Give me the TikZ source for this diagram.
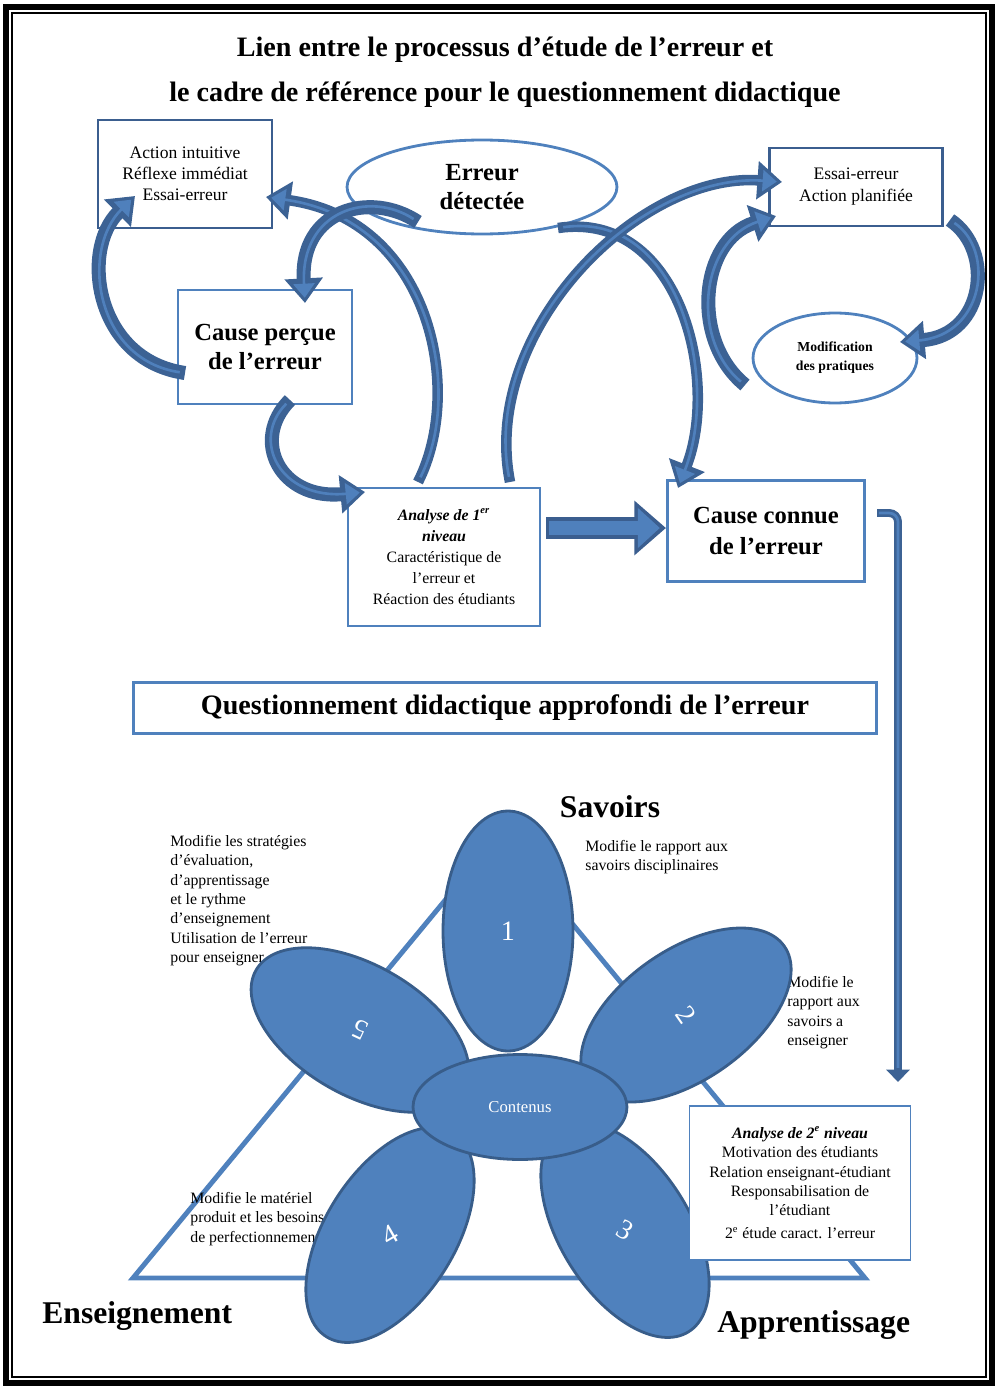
\documentclass[tikz,border=0pt]{standalone}
\usepackage{fontspec}
\setmainfont{Liberation Serif}
\usetikzlibrary{shapes.geometric, arrows.meta, positioning, calc}

\definecolor{boxdark}{HTML}{3B5E8F}
\definecolor{boxlight}{HTML}{4F81BD}
\definecolor{bandblue}{HTML}{3C6294}
\definecolor{bandlight}{HTML}{4F80BC}
\definecolor{petalfill}{HTML}{4F81BD}
\definecolor{petaledge}{HTML}{385D8A}

\begin{document}
\begin{tikzpicture}[x=0.02cm, y=-0.02cm,
    darkbox/.style={draw=boxdark, line width=1.6pt, align=center, inner sep=0pt},
    lightbox/.style={draw=boxlight, line width=1.6pt, align=center, inner sep=0pt},
    oval/.style={ellipse, draw=boxlight, line width=1.6pt, align=center, inner sep=0pt},
    band/.style={draw=bandblue, line width=#1, -{Triangle[length=14pt,width=21pt]},
        postaction={draw=bandlight, line width=1.5pt, shorten <=3pt, shorten >=3pt,
        -{Triangle[length=8pt,width=12pt]}}},
    band/.default=8pt,
    blockarrow/.style={draw=boxdark, line width=12pt, -{Triangle[length=18pt,width=30pt]},
        postaction={draw=bandlight, line width=8pt, shorten <=1.5pt, shorten >=3.5pt,
        -{Triangle[length=12.5pt,width=22pt]}}},
    conn/.style={draw=bandblue, line width=4.5pt, rounded corners=5pt, -{Triangle[length=7pt,width=13pt]},
        postaction={draw=bandlight, line width=1.5pt, shorten <=1pt, shorten >=8pt, -}},
    petal/.style={ellipse, draw=petaledge, line width=1.6pt, fill=petalfill,
        minimum width=4.8cm, minimum height=2.6cm, inner sep=0pt},
    petalnum/.style={text=white, font=\fontsize{16}{16}\selectfont, inner sep=0pt},
    note/.style={font=\fontsize{9}{11}\selectfont, align=left, anchor=north west, inner sep=0pt},
    corner/.style={font=\bfseries\fontsize{18}{20}\selectfont, inner sep=0pt}
]
\useasboundingbox (0,0) rectangle (997,1389);

% cadre
\draw[line width=3pt] (6,7) rectangle (992,1383);
\draw[line width=0.8pt] (12,13) rectangle (986,1377);

% titre
\node[font=\bfseries\fontsize{16}{19}\selectfont] (titre1) at (505,50) {Lien entre le processus d’étude de l’erreur et};
\node[font=\bfseries\fontsize{16}{19}\selectfont] (titre2) at (505,95) {le cadre de référence pour le questionnement didactique};

% processus d'etude de l'erreur
\node[darkbox, minimum width=3.48cm, minimum height=2.16cm, font=\fontsize{10}{12}\selectfont] (intuit) at (185,174)
    {Action intuitive\\Réflexe immédiat\\Essai-erreur};
\node[oval, minimum width=5.4cm, minimum height=1.88cm, font=\bfseries\fontsize{14}{16.5}\selectfont] (detect) at (482,187)
    {Erreur\\détectée};
\node[darkbox, minimum width=3.46cm, minimum height=1.56cm, font=\fontsize{10}{12.5}\selectfont] (planif) at (856,187)
    {Essai-erreur\\Action planifiée};
\node[lightbox, minimum width=3.48cm, minimum height=2.28cm, font=\bfseries\fontsize{14}{17}\selectfont] (percue) at (265,347)
    {Cause perçue\\de l’erreur};
\node[oval, minimum width=3.28cm, minimum height=1.8cm, font=\bfseries\fontsize{7.8}{10.8}\selectfont] (modif) at (835,358)
    {Modification\\des pratiques};
\node[lightbox, minimum width=3.84cm, minimum height=2.76cm, font=\fontsize{9}{12}\selectfont] (analyse1) at (444,557)
    {\textbf{\textit{Analyse de 1\textsuperscript{er}}}\\\textbf{\textit{niveau}}\\Caractéristique de\\l’erreur et\\Réaction des étudiants};
\node[lightbox, minimum width=3.94cm, minimum height=2.02cm, font=\bfseries\fontsize{14}{18}\selectfont] (connue) at (766,531)
    {Cause connue\\de l’erreur};

% fleches courbes
\coordinate (aTail) at (185,373); \coordinate (aHead) at (135,196);
\coordinate (bTail) at (418,222); \coordinate (bHead) at (305,303);
\coordinate (cTail) at (418,482); \coordinate (cHead) at (266,197);
\coordinate (dTail) at (510,482); \coordinate (dHead) at (782,182);
\coordinate (eTail) at (558,228); \coordinate (eHead) at (678,488);
\coordinate (fTail) at (745,385); \coordinate (fHead) at (776,216);
\coordinate (gTail) at (950,220); \coordinate (gHead) at (900,342);
\coordinate (hTail) at (290,400); \coordinate (hHead) at (365,492);

\draw[band] (aTail) .. controls (95,360) and (80,250) .. (aHead);
\draw[band=6pt] (cTail) .. controls (465,390) and (430,220) .. (cHead);
\draw[band] (bTail) .. controls (370,190) and (300,210) .. (bHead);
\draw[band=6pt] (eTail) .. controls (680,210) and (720,380) .. (eHead);
\draw[band=6pt] (dTail) .. controls (480,330) and (640,172) .. (dHead);
\draw[band] (fTail) .. controls (690,340) and (700,240) .. (fHead);
\draw[band] (gTail) .. controls (995,250) and (985,335) .. (gHead);
\draw[band] (hTail) .. controls (250,440) and (280,500) .. (hHead);

% analyse 1 -> cause connue
\coordinate (blocStart) at (546,528);
\coordinate (blocEnd) at (666,528);
\draw[blockarrow] (blocStart) -- (blocEnd);

% vers l'analyse de 2e niveau
\coordinate (connOut) at (877,513);
\coordinate (connIn) at (898,1082);
\draw[conn] (connOut) -| (connIn);

% questionnement
\node[lightbox, minimum width=14.86cm, minimum height=1.02cm, font=\bfseries\fontsize{16}{19}\selectfont] (question) at (505,708)
    {Questionnement didactique approfondi de l’erreur};

% triangle
\coordinate (triG) at (133,1278);
\coordinate (triH) at (499,835);
\coordinate (triD) at (865,1278);
\draw[boxlight, line width=2.8pt, line join=miter] (triG) -- (triH) -- (triD) -- cycle;

% textes
\node[note] (noteA) at (170,835) {Modifie les stratégies\\d’évaluation,\\d’apprentissage\\et le rythme\\d’enseignement\\Utilisation de l’erreur\\pour enseigner};
\node[note] (noteB) at (585,840) {Modifie le rapport aux\\savoirs disciplinaires};
\node[note] (noteC) at (787,976) {Modifie le\\rapport aux\\savoirs a\\enseigner};
\node[note] (noteD) at (190,1192) {Modifie le matériel\\produit et les besoins\\de perfectionnement};

% fleur
\node[petal, rotate=90] (p1) at (508,931) {};
\node[petal, rotate=35] (p2) at (686,1015) {};
\node[petal, rotate=-58] (p3) at (625,1230) {};
\node[petal, rotate=58] (p4) at (390,1235) {};
\node[petal, rotate=-30] (p5) at (360,1030) {};
\node[petal, minimum width=4.28cm, minimum height=2.1cm, text=white, font=\fontsize{9.5}{11}\selectfont] (centre) at (520,1107) {Contenus};

\node[petalnum] (n1) at (p1) {1};
\node[petalnum, rotate=-55] (n2) at (p2) {2};
\node[petalnum, rotate=-30] (n3) at (p3) {3};
\node[petalnum, rotate=30] (n4) at (p4) {4};
\node[petalnum, rotate=155] (n5) at (p5) {5};

% analyse 2e niveau
\node[draw=boxlight, line width=0.8pt, fill=white, align=center, inner sep=0pt,
    minimum width=4.42cm, minimum height=3.08cm, font=\fontsize{9}{11}\selectfont] (analyse2) at (800,1183)
    {\textbf{\textit{Analyse de 2\textsuperscript{e} niveau}}\\Motivation des étudiants\\Relation enseignant-étudiant\\Responsabilisation de\\l’étudiant\\[2pt]2\textsuperscript{e} étude caract. l’erreur};

% poles
\node[corner] (savoirs) at (610,807) {Savoirs};
\node[corner, anchor=west] (enseign) at (42,1316) {Enseignement};
\node[corner, anchor=west] (apprent) at (717,1325) {Apprentissage};
\end{tikzpicture}
\end{document}
